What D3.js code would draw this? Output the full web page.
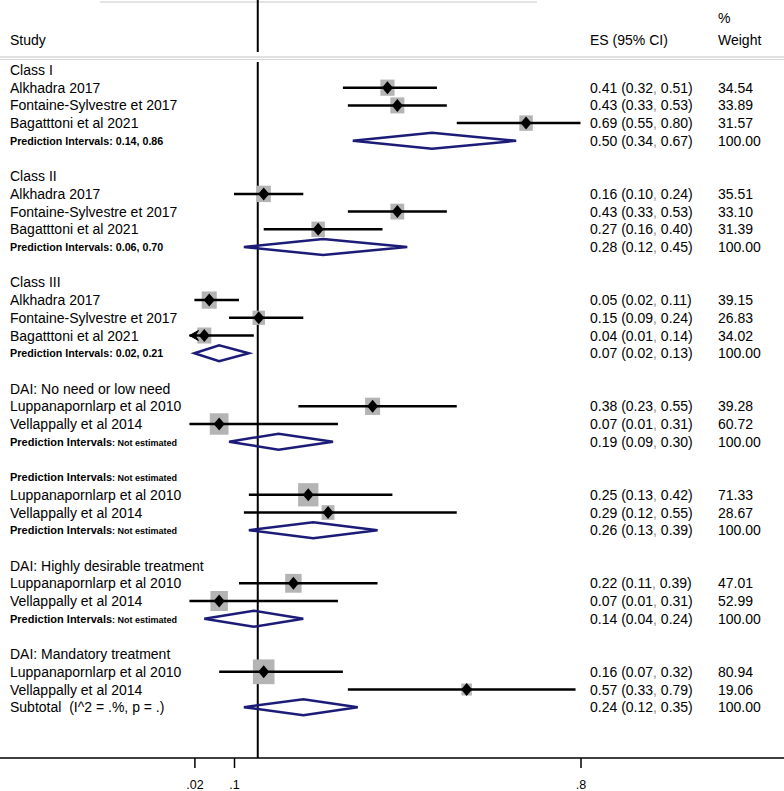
<!DOCTYPE html>
<html><head><meta charset="utf-8">
<script src="https://cdn.jsdelivr.net/npm/d3@7"></script>
<style>
html,body{margin:0;padding:0;background:#fff;}
svg{display:block;}
text{font-family:"Liberation Sans Narrow","Arial Narrow","Liberation Sans",sans-serif;white-space:pre;}
</style></head>
<body>
<svg id="chart" width="784" height="791"></svg>
<script>
// ---------- data ----------
const groupHeaders = ["Class I","Class II","Class III","DAI: No need or low need",
  "Prediction Intervals: Not estimated","DAI: Highly desirable treatment","DAI: Mandatory treatment"];
const studyNames = [
  ["Alkhadra 2017","Fontaine-Sylvestre et 2017","Bagatttoni et al 2021"],
  ["Alkhadra 2017","Fontaine-Sylvestre et 2017","Bagatttoni et al 2021"],
  ["Alkhadra 2017","Fontaine-Sylvestre et 2017","Bagatttoni et al 2021"],
  ["Luppanapornlarp et al 2010","Vellappally et al 2014"],
  ["Luppanapornlarp et al 2010","Vellappally et al 2014"],
  ["Luppanapornlarp et al 2010","Vellappally et al 2014"],
  ["Luppanapornlarp et al 2010","Vellappally et al 2014"]
];
const studyES = [[0.41,0.43,0.69],[0.16,0.43,0.27],[0.05,0.15,0.04],[0.38,0.07],[0.25,0.29],[0.22,0.07],[0.16,0.57]];
const studyLo = [[0.32,0.33,0.55],[0.10,0.33,0.16],[0.02,0.09,0.01],[0.23,0.01],[0.13,0.12],[0.11,0.01],[0.07,0.33]];
const studyHi = [[0.51,0.53,0.80],[0.24,0.53,0.40],[0.11,0.24,0.14],[0.55,0.31],[0.42,0.55],[0.39,0.31],[0.32,0.79]];
const studyWeight = [[34.54,33.89,31.57],[35.51,33.10,31.39],[39.15,26.83,34.02],[39.28,60.72],[71.33,28.67],[47.01,52.99],[80.94,19.06]];
const studyArrowLeft = [[false,false,false],[false,false,false],[false,false,true],[false,false],[false,false],[false,false],[false,false]];
const pooledES = [0.50,0.28,0.07,0.19,0.26,0.14,0.24];
const pooledLo = [0.34,0.12,0.02,0.09,0.13,0.04,0.12];
const pooledHi = [0.67,0.45,0.13,0.30,0.39,0.24,0.35];
const pooledLabel = ["Prediction Intervals: 0.14, 0.86","Prediction Intervals: 0.06, 0.70",
  "Prediction Intervals: 0.02, 0.21","Prediction Intervals: Not estimated",
  "Prediction Intervals: Not estimated","Prediction Intervals: Not estimated",
  "Subtotal  (I^2 = .%, p = .)"];
const refValue = 0.148;
const tickValues = [0.02, 0.1, 0.8];
const tickLabels = [".02", ".1", ".8"];

// ---------- layout ----------
const svg = d3.select("#chart");
const W = 784, H = 791;
const x = d3.scaleLinear().domain([0, 0.8]).range([184.5, 580.5]);
const rowY0 = 70, rowStep = 17.7;
const axisY = 758;
const esX = 590, wtX = 718, labX = 10;
const navy = "#1c1c78";

// build rows
const rows = [];
let r = 0;
groupHeaders.forEach((g, gi) => {
  rows.push({type: "header", gi, idx: r++});
  studyNames[gi].forEach((s, si) => rows.push({type: "study", gi, si, idx: r++}));
  rows.push({type: "pooled", gi, idx: r++});
  r++; // blank
});
const yOf = i => rowY0 + i * rowStep;
const fmt = d3.format(".2f");

// faint top line
svg.append("line").attr("x1", 100).attr("x2", 537).attr("y1", 2).attr("y2", 2)
  .attr("stroke", "#e4e4e4").attr("stroke-width", 2);

// header
svg.append("text").attr("x", labX).attr("y", 45).attr("font-size", 14).text("Study");
svg.append("text").attr("x", esX).attr("y", 45).attr("font-size", 14).text("ES (95% CI)");
svg.append("text").attr("x", wtX).attr("y", 23).attr("font-size", 14).text("%");
svg.append("text").attr("x", wtX).attr("y", 45).attr("font-size", 14).text("Weight");
svg.append("line").attr("x1", 0).attr("x2", W).attr("y1", 57).attr("y2", 57)
  .attr("stroke", "#c4c4c4").attr("stroke-width", 1.2);
svg.append("line").attr("x1", 0).attr("x2", W).attr("y1", 59.5).attr("y2", 59.5)
  .attr("stroke", "#d8d8d8").attr("stroke-width", 1);

// reference vertical line
const rx = x(refValue);
svg.append("line").attr("x1", rx).attr("x2", rx).attr("y1", 0).attr("y2", 52)
  .attr("stroke", "#000").attr("stroke-width", 2);
svg.append("line").attr("x1", rx).attr("x2", rx).attr("y1", 62).attr("y2", axisY)
  .attr("stroke", "#000").attr("stroke-width", 2);

// x axis
const axis = d3.axisBottom(x).tickValues(tickValues).tickSize(10)
  .tickFormat((d, i) => tickLabels[i]);
const ag = svg.append("g").attr("transform", `translate(0,${axisY})`).call(axis);
ag.select(".domain").remove();
ag.selectAll(".tick line").attr("stroke", "#000").attr("stroke-width", 1.5);
ag.selectAll(".tick text").attr("font-size", 12.5).attr("dy", "1.45em")
  .style("font-family", '"Liberation Sans Narrow","Arial Narrow","Liberation Sans",sans-serif').attr("fill", "#000");
svg.append("line").attr("x1", 0).attr("x2", W).attr("y1", axisY).attr("y2", axisY)
  .attr("stroke", "#000").attr("stroke-width", 1.5);

const esText = (sel, e, lo, hi) => {
  sel.append("tspan").text(`${fmt(e)} (${fmt(lo)}`);
  sel.append("tspan").attr("fill", "#888").text(",");
  sel.append("tspan").text(` ${fmt(hi)})`);
};
const piNotEst = (y) => {
  const tx = svg.append("text").attr("x", labX).attr("y", y + 4).attr("font-size", 11).attr("font-weight", "bold");
  tx.append("tspan").text("Prediction Intervals");
  tx.append("tspan").attr("font-size", 9).text(": Not estimated");
};

rows.forEach(row => {
  const y = yOf(row.idx);
  if (row.type === "header") {
    const t = groupHeaders[row.gi];
    if (t.startsWith("Prediction Intervals")) {
      piNotEst(y);
    } else {
      svg.append("text").attr("x", labX).attr("y", y + 5).attr("font-size", 14).text(t);
    }
  } else if (row.type === "study") {
    const gi = row.gi, si = row.si;
    const e = studyES[gi][si], lo = studyLo[gi][si], hi = studyHi[gi][si], w = studyWeight[gi][si];
    svg.append("text").attr("x", labX).attr("y", y + 5).attr("font-size", 14).text(studyNames[gi][si]);
    const bw = 2.4 * Math.sqrt(w), bh = 2.75 * Math.sqrt(w);
    svg.append("rect").attr("x", x(e) - bw / 2).attr("y", y - bh / 2).attr("width", bw).attr("height", bh)
      .attr("fill", "#b4b4b4");
    svg.append("line").attr("x1", x(lo)).attr("x2", x(hi)).attr("y1", y).attr("y2", y)
      .attr("stroke", "#000").attr("stroke-width", 2.5);
    if (studyArrowLeft[gi][si]) {
      const ax = x(lo);
      svg.append("path").attr("d", `M${ax},${y} L${ax + 9},${y - 5} L${ax + 6},${y} L${ax + 9},${y + 5} Z`)
        .attr("fill", "#000").attr("stroke", "#000").attr("stroke-width", 1);
    }
    svg.append("path").attr("d", `M${x(e) - 5.5},${y} L${x(e)},${y - 6.5} L${x(e) + 5.5},${y} L${x(e)},${y + 6.5} Z`)
      .attr("fill", "#000");
    const et = svg.append("text").attr("x", esX).attr("y", y + 5).attr("font-size", 14);
    esText(et, e, lo, hi);
    svg.append("text").attr("x", wtX).attr("y", y + 5).attr("font-size", 14).text(fmt(w));
  } else if (row.type === "pooled") {
    const gi = row.gi;
    const lab = pooledLabel[gi];
    if (lab.startsWith("Subtotal")) {
      svg.append("text").attr("x", labX).attr("y", y + 5).attr("font-size", 14).text(lab);
    } else if (lab.endsWith("Not estimated")) {
      piNotEst(y);
    } else {
      svg.append("text").attr("x", labX).attr("y", y + 4).attr("font-size", 10.7).attr("font-weight", "bold").text(lab);
    }
    const e = pooledES[gi], lo = pooledLo[gi], hi = pooledHi[gi];
    svg.append("path").attr("d", `M${x(lo)},${y} L${x(e)},${y - 8} L${x(hi)},${y} L${x(e)},${y + 8} Z`)
      .attr("fill", "none").attr("stroke", navy).attr("stroke-width", 2.5);
    const et = svg.append("text").attr("x", esX).attr("y", y + 5).attr("font-size", 14);
    esText(et, e, lo, hi);
    svg.append("text").attr("x", wtX).attr("y", y + 5).attr("font-size", 14).text("100.00");
  }
});
</script>
</body></html>
